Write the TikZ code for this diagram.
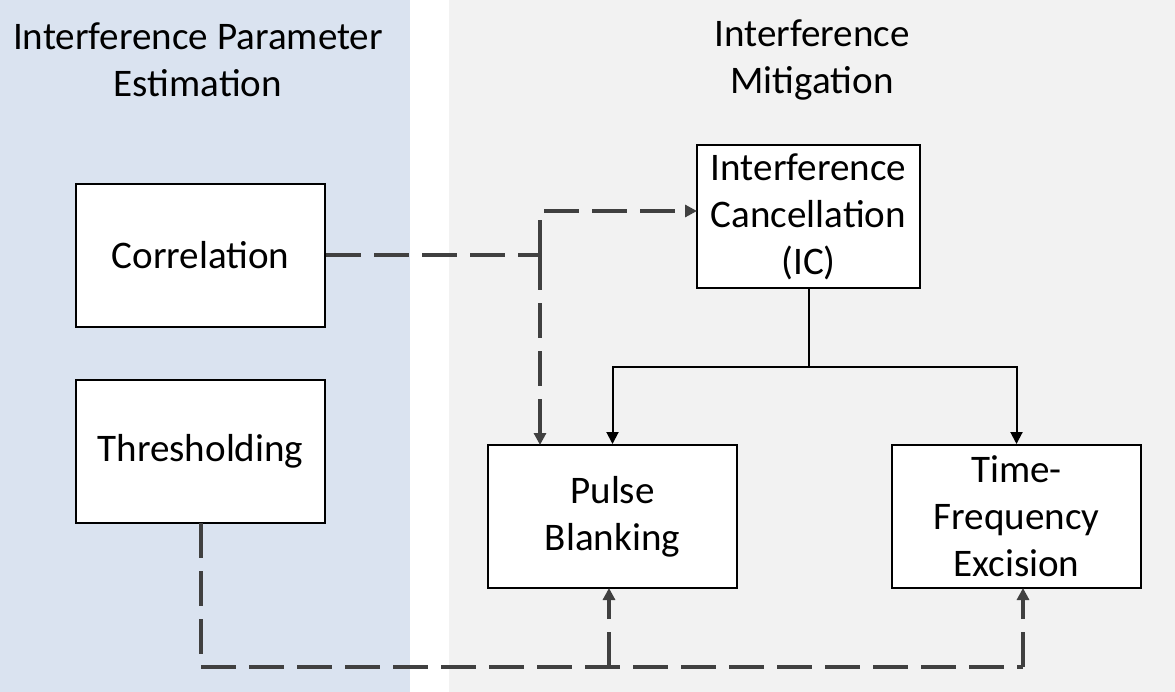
\documentclass[tikz,border=0pt]{standalone}
\usepackage{fontspec}
\setmainfont{Carlito}
\usetikzlibrary{arrows.meta,calc}
\definecolor{bluebg}{HTML}{DAE3F0}
\definecolor{graybg}{HTML}{F2F2F2}
\definecolor{dashc}{HTML}{404040}
\tikzset{
  box/.style={draw=black, line width=1.5pt, fill=white, align=center, inner sep=0pt,
    font=\fontsize{29.3pt}{35.3pt}\selectfont},
  title/.style={align=center, inner sep=0pt, font=\fontsize{29.3pt}{35.3pt}\selectfont},
  dashline/.style={draw=dashc, line width=2.5pt, dash pattern=on 26.25pt off 9.75pt},
  dasharrow/.style={dashline, -{Triangle[length=9pt,width=9pt]}},
  solidarrow/.style={draw=black, line width=1.5pt, -{Triangle[length=9pt,width=9pt]}},
}
\begin{document}
\begin{tikzpicture}[x=0.75pt,y=-0.75pt]
\useasboundingbox (0,0) rectangle (1175,692);
\fill[white] (0,0) rectangle (1175,692);
\fill[bluebg] (0,0) rectangle (410,692);
\fill[graybg] (449,0) rectangle (1175,692);

\node[title] (t1) at (198,60) {Interference Parameter\\Estimation};
\node[title] (t2) at (812,60) {Interference\\Mitigation};

\node[box, minimum width=249*0.75pt, minimum height=143*0.75pt] (corr) at (200.5,255.5) {Correlation};
\node[box, minimum width=249*0.75pt, minimum height=143*0.75pt] (thr) at (200.5,451.5) {Thresholding};
\node[box, minimum width=223*0.75pt, minimum height=143*0.75pt] (ic) at (808.5,216.5) {Interference\\Cancellation\\(IC)};
\node[box, minimum width=249*0.75pt, minimum height=143*0.75pt] (pb) at (612.5,516.5) {Pulse\\Blanking};
\node[box, minimum width=249*0.75pt, minimum height=143*0.75pt] (tfe) at (1016.5,516.5) {Time-\\Frequency\\Excision};

% correlation dashed connectors
\coordinate (j1) at (540,255);
\coordinate (j1top) at (540,211);
\coordinate (icin) at (697,211);
\coordinate (pbin) at (540,445);
\draw[dashline] (corr.east |- j1) -- (j1);
\draw[dasharrow] (j1) -- (pbin);
\draw[dasharrow] (j1) -- (j1top) -- (icin);

% IC solid connectors
\coordinate (sp) at (808.5,367);
\draw[draw=black, line width=1.5pt] (ic.south) -- (sp);
\draw[solidarrow] (sp) -| (pb.north);
\draw[solidarrow] (sp) -| (tfe.north);

% thresholding dashed connectors
\coordinate (tb) at (201,523);
\coordinate (bl) at (201,667);
\coordinate (bm) at (609,667);
\coordinate (br) at (1023,667);
\coordinate (pbout) at (609,588);
\coordinate (tfeout) at (1023,588);
\draw[dashline] (tb) -- (bl) -- (br);
\draw[dasharrow] (br) -- (tfeout);
\draw[dasharrow] (bm) -- (pbout);
\end{tikzpicture}
\end{document}
